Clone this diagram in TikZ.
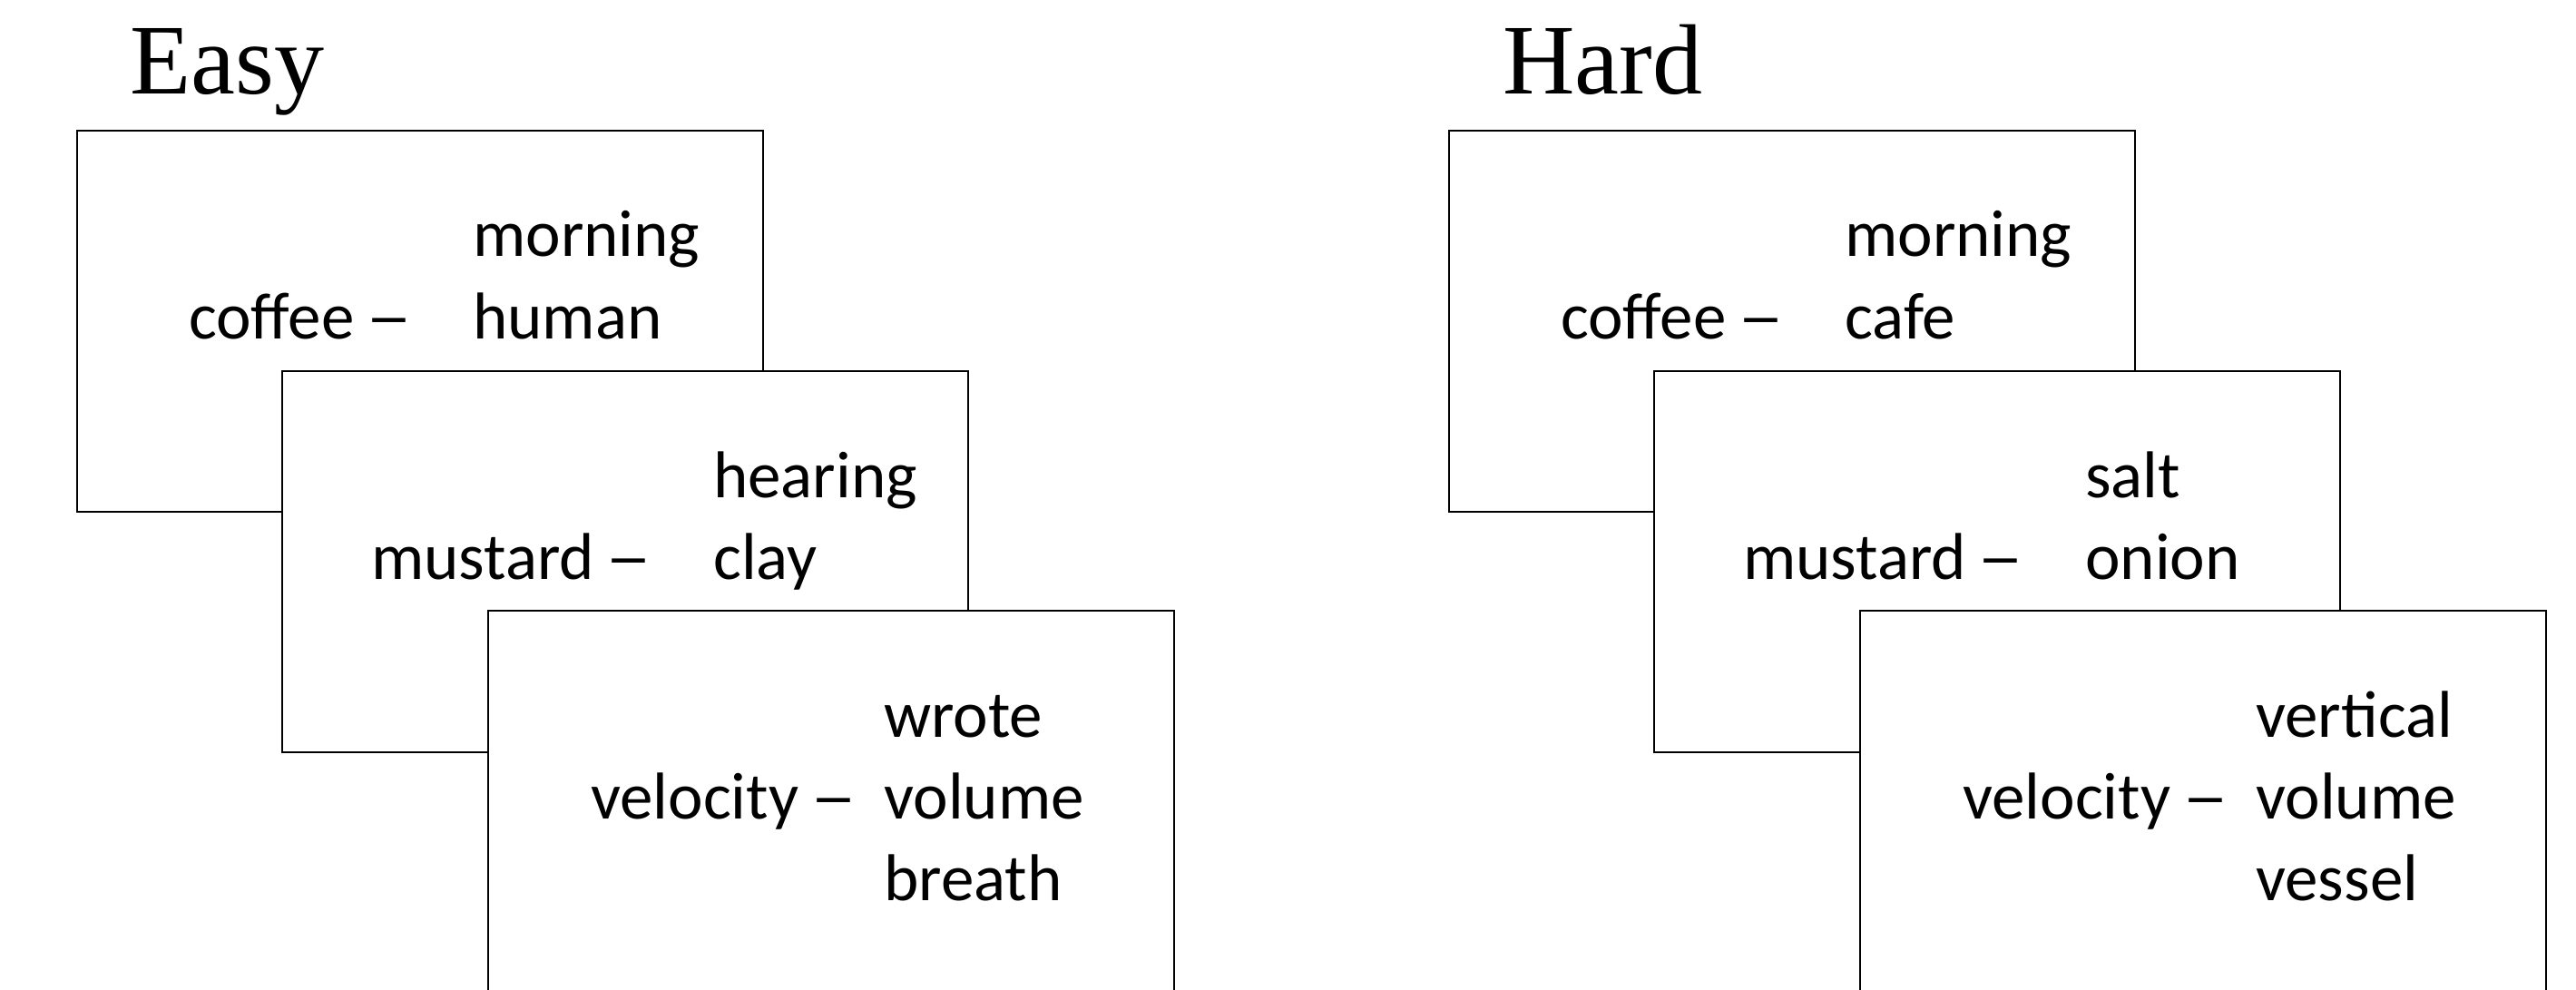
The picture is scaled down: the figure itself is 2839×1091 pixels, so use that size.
\documentclass[tikz,border=0pt]{standalone}
\usepackage{fontspec}
\setmainfont{Carlito}
\newfontfamily\titlefont{Liberation Serif}
\newcommand{\longdash}{\hspace{-0.05em}\scalebox{1.4}[1]{–}}
\begin{document}
\begin{tikzpicture}[x=1pt,y=-1pt,
  card/.style={draw=black, fill=white, line width=2.5pt, minimum width=756pt, minimum height=420pt, anchor=north west, inner sep=0pt, outer sep=0pt},
  lastcard/.style={card, minimum height=440pt},
  word/.style={anchor=base west, inner sep=0pt, font=\fontsize{73}{88}\selectfont},
  titletext/.style={anchor=base west, inner sep=0pt, font=\titlefont\fontsize{110}{130}\selectfont}]
\useasboundingbox (0,0) rectangle (2839,1091);
\clip (0,0) rectangle (2839,1091);
% Easy
\node[titletext] (easyT) at (143,104) {Easy};
\node[card] (e1) at (85,144) {};
\node[word] (e1a) at ([shift={(123,229)}]e1.north west) {coffee \longdash};
\node[word] (e1b) at ([shift={(436,139)}]e1.north west) {morning};
\node[word] (e1c) at ([shift={(436,229)}]e1.north west) {human};
\node[card] (e2) at (311,409) {};
\node[word] (e2a) at ([shift={(98,229)}]e2.north west) {mustard \longdash};
\node[word] (e2b) at ([shift={(475,139)}]e2.north west) {hearing};
\node[word] (e2c) at ([shift={(475,229)}]e2.north west) {clay};
\node[lastcard] (e3) at (538,673) {};
\node[word] (e3a) at ([shift={(113,229)}]e3.north west) {velocity \longdash};
\node[word] (e3b) at ([shift={(436,139)}]e3.north west) {wrote};
\node[word] (e3c) at ([shift={(436,229)}]e3.north west) {volume};
\node[word] (e3d) at ([shift={(436,319)}]e3.north west) {breath};
% Hard
\node[titletext] (hardT) at (1656,104) {Hard};
\node[card] (h1) at (1597,144) {};
\node[word] (h1a) at ([shift={(123,229)}]h1.north west) {coffee \longdash};
\node[word] (h1b) at ([shift={(436,139)}]h1.north west) {morning};
\node[word] (h1c) at ([shift={(436,229)}]h1.north west) {cafe};
\node[card] (h2) at (1823,409) {};
\node[word] (h2a) at ([shift={(98,229)}]h2.north west) {mustard \longdash};
\node[word] (h2b) at ([shift={(475,139)}]h2.north west) {salt};
\node[word] (h2c) at ([shift={(475,229)}]h2.north west) {onion};
\node[lastcard] (h3) at (2050,673) {};
\node[word] (h3a) at ([shift={(113,229)}]h3.north west) {velocity \longdash};
\node[word] (h3b) at ([shift={(436,139)}]h3.north west) {vertical};
\node[word] (h3c) at ([shift={(436,229)}]h3.north west) {volume};
\node[word] (h3d) at ([shift={(436,319)}]h3.north west) {vessel};
\end{tikzpicture}
\end{document}
